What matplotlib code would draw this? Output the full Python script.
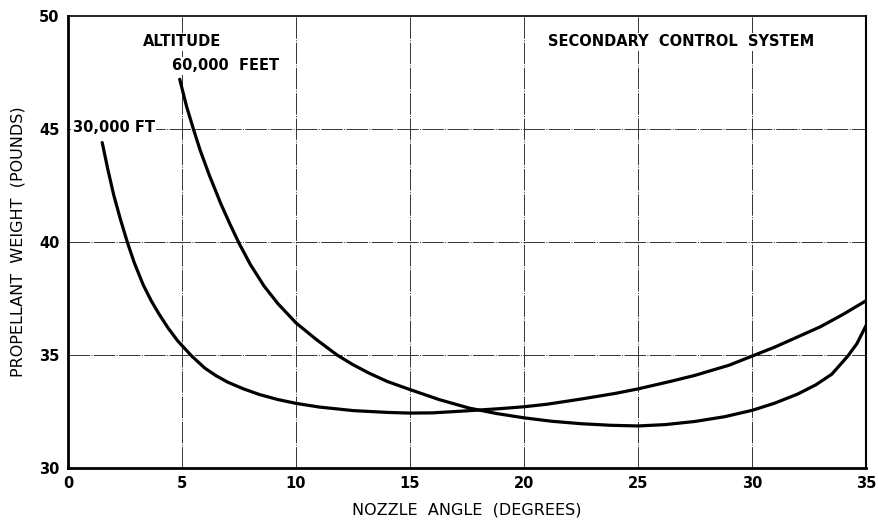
import numpy as np
import matplotlib
matplotlib.use("Agg")
import matplotlib.pyplot as plt

# nozzle angle (deg) vs propellant weight (lb)
angle_30k = [1.5, 1.75, 2.0, 2.3, 2.6, 2.9, 3.3, 3.65, 4.0, 4.4, 4.8, 5.4, 6.0, 6.5,
             7.0, 7.7, 8.4, 9.2, 10.0, 11.0, 12.5, 14.0, 15.0, 16.0, 17.5, 19.0,
             20.0, 21.0, 22.5, 24.0, 25.0, 26.5, 27.5, 29.0, 30.0, 31.0, 32.0,
             33.0, 34.0, 35.0]
weight_30k = [44.4, 43.2, 42.1, 41.0, 40.0, 39.1, 38.1, 37.4, 36.8, 36.18, 35.64, 34.98, 34.42, 34.08,
              33.8, 33.5, 33.25, 33.03, 32.86, 32.7, 32.54, 32.46, 32.43, 32.44, 32.53, 32.63,
              32.71, 32.82, 33.05, 33.3, 33.5, 33.85, 34.1, 34.55, 34.95, 35.35, 35.8,
              36.25, 36.8, 37.4]

angle_60k = [4.9, 5.2, 5.5, 5.8, 6.2, 6.7, 7.1, 7.5, 8.0, 8.6, 9.2, 10.0, 10.9, 11.8,
             12.5, 13.2, 14.0, 15.0, 16.3, 17.6, 18.8, 20.0, 21.2, 22.5, 23.8, 25.0,
             26.2, 27.5, 28.8, 30.0, 31.0, 32.0, 32.8, 33.5, 34.2, 34.6, 35.0]
weight_60k = [47.2, 46.0, 45.0, 44.05, 42.95, 41.7, 40.8, 39.95, 39.0, 38.05, 37.28, 36.42, 35.68, 35.0,
              34.57, 34.2, 33.83, 33.47, 33.02, 32.65, 32.41, 32.22, 32.07, 31.96, 31.89, 31.86,
              31.92, 32.06, 32.27, 32.55, 32.87, 33.27, 33.68, 34.15, 34.95, 35.5, 36.3]

xticks = [0, 5, 10, 15, 20, 25, 30, 35]
yticks = [30, 35, 40, 45, 50]

plt.rcParams['font.family'] = 'DejaVu Sans'

fig = plt.figure(figsize=(8.79, 5.22), dpi=100)
ax = fig.add_axes([68 / 879, 1 - 468 / 522, 798 / 879, 452 / 522])

ax.set_xlim(0, 35)
ax.set_ylim(30, 50)

# broken-line grid
grid_ls = (0, (22, 1.5, 1, 1.5))
for x in xticks[1:-1]:
    ax.axvline(x, color='black', lw=0.7, ls=grid_ls, alpha=0.8, zorder=1)
for y in yticks[1:-1]:
    ax.axhline(y, color='black', lw=0.7, ls=grid_ls, alpha=0.8, zorder=1)

ax.plot(angle_30k, weight_30k, color='black', lw=2.3, solid_capstyle='round',
        solid_joinstyle='round', zorder=3)
ax.plot(angle_60k, weight_60k, color='black', lw=2.3, solid_capstyle='round',
        solid_joinstyle='round', zorder=3)

box = dict(facecolor='white', edgecolor='none', pad=1.0)
ax.text(3.3, 48.85, 'ALTITUDE', fontsize=10.5, fontweight='bold', va='center', bbox=box, zorder=2)
ax.text(4.55, 47.8, '60,000  FEET', fontsize=10.5, fontweight='bold', va='center', bbox=box, zorder=2)
ax.text(0.2, 45.05, '30,000 FT', fontsize=10.5, fontweight='bold', va='center', bbox=box, zorder=2)
ax.text(21.05, 48.85, 'SECONDARY  CONTROL  SYSTEM', fontsize=10.5, fontweight='bold',
        va='center', bbox=box, zorder=2)

ax.set_xticks(xticks)
ax.set_yticks(yticks)
ax.tick_params(length=0, labelsize=10.5, pad=6)
for lab in ax.get_xticklabels() + ax.get_yticklabels():
    lab.set_fontweight('bold')

ax.set_xlabel('NOZZLE  ANGLE  (DEGREES)', fontsize=11.5, labelpad=8)
ax.set_ylabel('PROPELLANT  WEIGHT  (POUNDS)', fontsize=11.5, labelpad=10)

ax.spines['left'].set_linewidth(2.0)
ax.spines['bottom'].set_linewidth(2.0)
ax.spines['top'].set_linewidth(1.2)
ax.spines['right'].set_linewidth(1.5)

fig.savefig('out.png', dpi=100, facecolor='white')
